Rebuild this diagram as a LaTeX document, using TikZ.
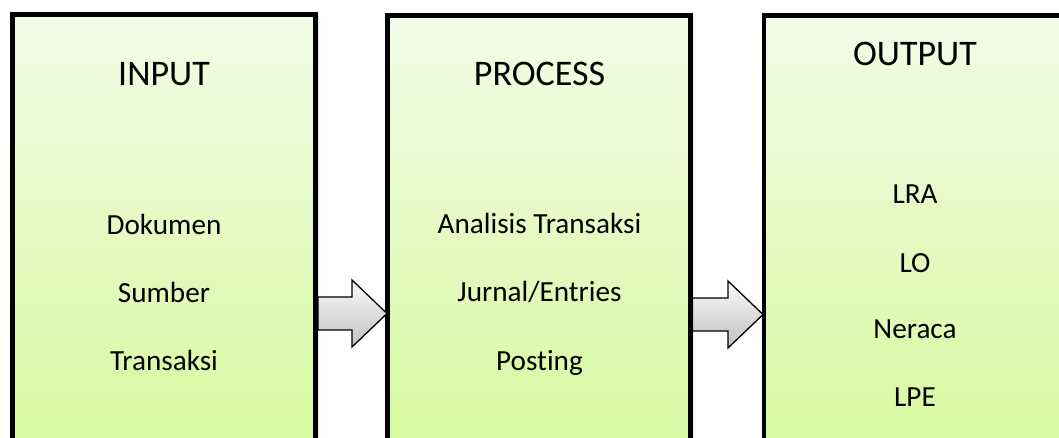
\documentclass[tikz,border=0pt]{standalone}
\usepackage{fontspec}
\setmainfont{Carlito}[RawFeature={-liga;-dlig}]
\usetikzlibrary{calc,shadows.blur}
\definecolor{boxtop}{RGB}{243,251,231}
\definecolor{boxbot}{RGB}{212,249,155}
\definecolor{arrtop}{RGB}{250,250,250}
\definecolor{arrbot}{RGB}{192,192,192}
\begin{document}
\begin{tikzpicture}[x=1pt,y=-1pt,
  box/.style={draw=black, line width=4.5pt, top color=boxtop, bottom color=boxbot,
    inner sep=0pt, outer sep=0pt, anchor=north west, minimum height=460pt,
    blur shadow={shadow xshift=1.5pt, shadow yshift=-1pt, shadow blur radius=3pt, shadow opacity=35}},
  title/.style={font=\fontsize{36}{42}\selectfont, anchor=base, inner sep=0pt},
  item/.style={font=\fontsize{29.2}{35}\selectfont, anchor=base, inner sep=0pt},
  blockarrow/.style={draw=black, line width=1.3pt, top color=arrtop, bottom color=arrbot, line join=miter}]
\useasboundingbox (0,0) rectangle (1059,437);
\clip (0,0) rectangle (1059,437);
% boxes
\node[box, minimum width=303pt] (inbox) at (12.5,14.3) {};
\node[box, minimum width=303pt] (procbox) at (387.5,15.5) {};
\node[box, minimum width=304pt] (outbox) at (764,15.3) {};
% arrows
\coordinate (a1s) at (318,313.5);
\coordinate (a1t) at (387,313.5);
\coordinate (a2s) at (692.5,314.5);
\coordinate (a2t) at (763,314.5);
\draw[blockarrow] ($(a1s)+(0,-16.5)$) -- ($(a1t)+(-35,-16.5)$) -- ($(a1t)+(-35,-33.5)$) -- (a1t)
  -- ($(a1t)+(-35,33.5)$) -- ($(a1t)+(-35,16.5)$) -- ($(a1s)+(0,16.5)$) -- cycle;
\draw[blockarrow] ($(a2s)+(0,-16.5)$) -- ($(a2t)+(-35,-16.5)$) -- ($(a2t)+(-35,-33.5)$) -- (a2t)
  -- ($(a2t)+(-35,33.5)$) -- ($(a2t)+(-35,16.5)$) -- ($(a2s)+(0,16.5)$) -- cycle;
% texts
\node[title] (t1) at (164,85) {INPUT};
\node[item] (i11) at (164,234.3) {Dokumen};
\node[item] (i12) at (164,302) {Sumber};
\node[item] (i13) at (164,370.7) {Transaksi};
\node[title] (t2) at (539.5,85) {PROCESS};
\node[item] (i21) at (539.5,233.3) {Analisis Transaksi};
\node[item] (i22) at (539.5,301.7) {Jurnal/Entries};
\node[item] (i23) at (539.5,370) {Posting};
\node[title] (t3) at (915,65) {OUTPUT};
\node[item] (i31) at (915,203) {LRA};
\node[item] (i32) at (915,272) {LO};
\node[item] (i33) at (915,338.5) {Neraca};
\node[item] (i34) at (915,406.5) {LPE};
\end{tikzpicture}
\end{document}
